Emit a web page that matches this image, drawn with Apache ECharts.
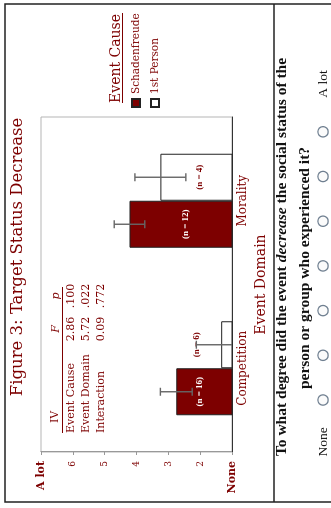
<!DOCTYPE html>
<html lang="en">
<head>
<meta charset="UTF-8">
<title>Figure 3: Target Status Decrease</title>
<script src="https://cdn.jsdelivr.net/npm/echarts@6/dist/echarts.min.js"></script>
<style>
  html, body { margin: 0; padding: 0; overflow: hidden; background: #fff; }
  /* the figure is drawn upright and then turned a quarter to the left */
  #box { position: absolute; left: 0; top: 0; width: 508px; height: 331px;
         transform-origin: 0 0; transform: translateY(508px) rotate(-90deg); }
</style>
</head>
<body>
<div id="box"></div>
<script>
var categories = ['Competition', 'Morality'];
var schadenfreude = [2.75, 4.22];
var firstPerson = [1.34, 3.25];
var schadenfreudeErr = [0.5, 0.48];
var firstPersonErr = [0.78, 0.8];
var schadenfreudeN = [16, 12];
var firstPersonN = [6, 4];
var scaleLabels = ['None', '2', '3', '4', '5', '6', 'A lot'];
var statHead = ['IV', 'F', 'p'];
var statNames = ['Event Cause', 'Event Domain', 'Interaction'];
var statF = ['2.86', '5.72', '0.09'];
var statP = ['.100', '.022', '.772'];

var RED = '#7d0000';
var SERIF = '"DejaVu Serif", serif';
var TIMES = '"Liberation Serif", serif';
var BAR_W = 47;

var chart = echarts.init(document.getElementById('box'));

function errBars(means, errs, shift) {
    return {
        type: 'custom',
        clip: true,
        z: 5,
        encode: { x: 0, y: [1, 2] },
        data: means.map(function (m, i) { return [i, m - errs[i], m + errs[i]]; }),
        renderItem: function (params, api) {
            var lo = api.coord([api.value(0), api.value(1)]);
            var hi = api.coord([api.value(0), api.value(2)]);
            var x = lo[0] + shift;
            var st = { stroke: '#666', lineWidth: 1.4 };
            return {
                type: 'group',
                children: [
                    { type: 'line', shape: { x1: x, y1: lo[1], x2: x, y2: hi[1] }, style: st },
                    { type: 'line', shape: { x1: x - 4, y1: hi[1], x2: x + 4, y2: hi[1] }, style: st },
                    { type: 'line', shape: { x1: x - 4, y1: lo[1], x2: x + 4, y2: lo[1] }, style: st }
                ]
            };
        }
    };
}

function barData(vals, ns, special) {
    return vals.map(function (v, i) {
        var d = { value: v, n: ns[i] };
        if (special && special[i]) d.label = { distance: special[i] };
        return d;
    });
}

// stats table inside the plot
var table = [];
table.push({ type: 'text', left: 85, top: 50, style: { text: statHead[0], font: '11px ' + SERIF, fill: RED } });
table.push({ type: 'text', x: 179, y: 56, style: { text: statHead[1], font: 'italic 11px ' + SERIF, fill: RED, align: 'center', verticalAlign: 'middle' } });
table.push({ type: 'text', x: 212, y: 56, style: { text: statHead[2], font: 'italic 11px ' + SERIF, fill: RED, align: 'center', verticalAlign: 'middle' } });
table.push({ type: 'line', shape: { x1: 75, y1: 62.5, x2: 221, y2: 62.5 }, style: { stroke: RED, lineWidth: 1 } });
statNames.forEach(function (name, i) {
    var y = 71 + i * 15;
    table.push({ type: 'text', x: 75, y: y, style: { text: name, font: '11px ' + SERIF, fill: RED, verticalAlign: 'middle' } });
    table.push({ type: 'text', x: 179, y: y, style: { text: statF[i], font: '11px ' + SERIF, fill: RED, align: 'center', verticalAlign: 'middle' } });
    table.push({ type: 'text', x: 212, y: y, style: { text: statP[i], font: '11px ' + SERIF, fill: RED, align: 'center', verticalAlign: 'middle' } });
});

// answer scale of the question panel
var radios = [];
for (var k = 0; k < 7; k++) {
    radios.push({ type: 'circle', shape: { cx: 108 + k * 44.7, cy: 323, r: 5.2 },
        style: { fill: '#fbfbfb', stroke: '#6f7f90', lineWidth: 1.3 } });
}

var option = {
    animation: false,
    grid: { left: 56, right: 117, top: 41, bottom: 99, show: true, borderColor: '#b5b5b5', borderWidth: 1 },
    legend: {
        data: ['Schadenfreude', '1st Person'],
        orient: 'vertical', left: 395, top: 124,
        icon: 'rect', itemWidth: 8, itemHeight: 8, itemGap: 5,
        textStyle: { fontFamily: SERIF, fontSize: 10.5, color: RED, lineHeight: 14 }
    },
    xAxis: {
        type: 'category', data: categories,
        name: 'Event Domain', nameLocation: 'middle', nameGap: 22,
        nameTextStyle: { fontFamily: SERIF, fontSize: 14, color: RED },
        axisLine: { lineStyle: { color: '#333', width: 1.2 } },
        axisTick: { length: 3, lineStyle: { color: '#666' } },
        axisLabel: { fontFamily: SERIF, fontSize: 12, color: RED, margin: 5 }
    },
    yAxis: {
        type: 'value', min: 1, max: 7, interval: 1,
        splitLine: { show: false },
        axisLine: { show: true, lineStyle: { color: '#999' } },
        axisTick: { show: true, length: 3, lineStyle: { color: '#999' } },
        axisLabel: {
            margin: 9, fontFamily: SERIF, fontSize: 9, color: RED,
            formatter: function (v) {
                var s = scaleLabels[v - 1];
                return (v === 1 || v === 7) ? '{b|' + s + '}' : s;
            },
            rich: { b: { fontFamily: SERIF, fontSize: 11, fontWeight: 'bold', color: RED } }
        }
    },
    series: [
        {
            name: 'Schadenfreude', type: 'bar', barWidth: BAR_W, barGap: '0%',
            data: barData(schadenfreude, schadenfreudeN, [0, 42]),
            itemStyle: { color: RED, borderColor: '#222', borderWidth: 1 },
            label: {
                show: true, position: 'insideBottom', distance: 28,
                fontFamily: TIMES, fontSize: 9, fontWeight: 'bold', color: '#fff',
                formatter: function (p) { return '(n = ' + p.data.n + ')'; }
            }
        },
        {
            name: '1st Person', type: 'bar', barWidth: BAR_W, barGap: '0%',
            data: barData(firstPerson, firstPersonN, [31, 0]),
            itemStyle: { color: '#fff', borderColor: '#222', borderWidth: 1 },
            label: {
                show: true, position: 'insideBottom', distance: 28,
                fontFamily: TIMES, fontSize: 9, fontWeight: 'bold', color: RED,
                formatter: function (p) { return '(n = ' + p.data.n + ')'; }
            }
        },
        errBars(schadenfreude, schadenfreudeErr, -BAR_W / 2),
        errBars(firstPerson, firstPersonErr, BAR_W / 2)
    ],
    graphic: [
        { type: 'rect', shape: { x: 6, y: 5, width: 498, height: 340 }, style: { fill: 'none', stroke: '#222', lineWidth: 1.5 } },
        { type: 'line', shape: { x1: 6, y1: 274, x2: 504, y2: 274 }, style: { stroke: '#222', lineWidth: 1.5 } },
        { type: 'text', x: 251, y: 18, style: { text: 'Figure 3: Target Status Decrease', font: '16.5px ' + SERIF, fill: RED, align: 'center', verticalAlign: 'middle' } },
        { type: 'text', x: 405, y: 116, style: { text: 'Event Cause', font: '14px ' + SERIF, fill: RED, verticalAlign: 'middle' } },
        { type: 'line', shape: { x1: 405, y1: 122.5, x2: 495, y2: 122.5 }, style: { stroke: RED, lineWidth: 1 } },
        { type: 'group', children: table },
        { type: 'text', x: 251, y: 282, style: {
            text: '{n|To what degree did the event }{i|decrease}{n| the social status of the}',
            align: 'center', verticalAlign: 'middle',
            rich: {
                n: { font: 'bold 15.5px ' + TIMES, fill: '#111' },
                i: { font: 'italic bold 15.5px ' + TIMES, fill: '#111' }
            }
        } },
        { type: 'text', x: 240, y: 305, style: { text: 'person or group who experienced it?', font: 'bold 15.5px ' + TIMES, fill: '#111', align: 'center', verticalAlign: 'middle' } },
        { type: 'group', children: radios },
        { type: 'text', x: 66, y: 323, style: { text: 'None', font: '13.5px ' + TIMES, fill: '#111', align: 'center', verticalAlign: 'middle' } },
        { type: 'text', x: 424, y: 323, style: { text: 'A lot', font: '13.5px ' + TIMES, fill: '#111', align: 'center', verticalAlign: 'middle' } }
    ]
};
chart.setOption(option);
</script>
</body>
</html>
